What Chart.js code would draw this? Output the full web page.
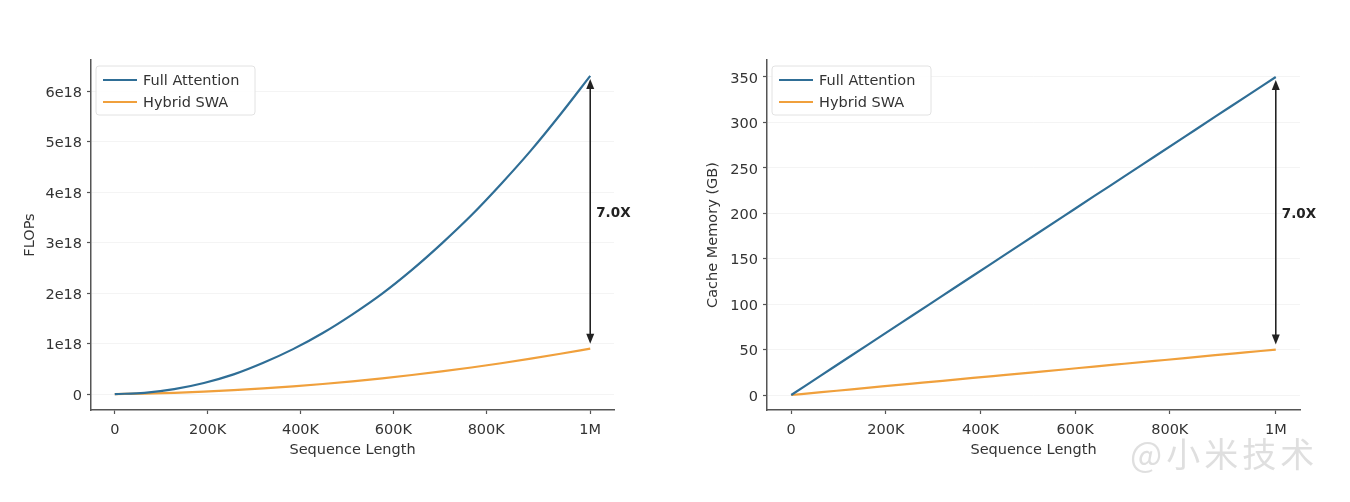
<!DOCTYPE html>
<html>
<head>
<meta charset="utf-8">
<script src="https://cdn.jsdelivr.net/npm/chart.js@4.4.1/dist/chart.umd.min.js"></script>
<style>
    html, body { margin: 0; padding: 0; background: #fff; }
    #wrap { position: relative; width: 1350px; height: 502px; overflow: hidden; }
    .panel { position: absolute; top: 0; }
    #watermark {
        position: absolute; left: 1130px; top: 428px;
        font: 34px "Noto Sans CJK SC", sans-serif;
        letter-spacing: 4px;
        color: rgba(150, 150, 150, 0.3);
        white-space: nowrap;
    }
</style>
</head>
<body>
<div id="wrap">
    <canvas id="flopsChart" class="panel" style="left:0" width="675" height="502"></canvas>
    <canvas id="memoryChart" class="panel" style="left:675px" width="675" height="502"></canvas>
    <div id="watermark">@小米技术</div>
</div>
<script>
// Sequence lengths (tokens); "1M" means 1024K here
const seqLen = [0, 64000, 128000, 192000, 256000, 320000, 384000, 448000, 512000,
    576000, 640000, 704000, 768000, 832000, 896000, 960000, 1024000];

// FLOPs, in units of 1e18
const flopsFull = [0, 0.025, 0.098, 0.22, 0.39, 0.62, 0.89, 1.21, 1.58,
    1.99, 2.46, 2.98, 3.54, 4.16, 4.82, 5.54, 6.30];
const flopsHybrid = [0, 0.010, 0.026, 0.049, 0.077, 0.112, 0.153, 0.200, 0.253,
    0.312, 0.378, 0.450, 0.527, 0.611, 0.701, 0.798, 0.90];

// KV cache memory, GB
const memFull = [0, 21.9, 43.8, 65.6, 87.5, 109.4, 131.3, 153.1, 175.0,
    196.9, 218.8, 240.6, 262.5, 284.4, 306.3, 328.1, 350.0];
const memHybrid = [0, 3.1, 6.3, 9.4, 12.5, 15.6, 18.8, 21.9, 25.0,
    28.1, 31.3, 34.4, 37.5, 40.6, 43.8, 46.9, 50.0];

const xTickValues = [0, 200000, 400000, 600000, 800000, 1024000];
const xTickLabels = ['0', '200K', '400K', '600K', '800K', '1M'];
const flopsTickValues = [0, 1, 2, 3, 4, 5, 6];
const flopsTickLabels = ['0', '1e18', '2e18', '3e18', '4e18', '5e18', '6e18'];
const memTickValues = [0, 50, 100, 150, 200, 250, 300, 350];
const memTickLabels = ['0', '50', '100', '150', '200', '250', '300', '350'];

const seriesNames = ['Full Attention', 'Hybrid SWA'];
const seriesColors = ['#2f6e96', '#f0a03c'];

const FONT = '"DejaVu Sans", sans-serif';
const TEXT = '#333';
const AXIS = '#555';

function toPoints(values) {
    return values.map((v, i) => ({ x: seqLen[i], y: v }));
}

// arrow between the two series at the last point, legend box in the top-left corner
const overlayPlugin = {
    id: 'overlay',
    afterDatasetsDraw(chart) {
        const { ctx, chartArea, scales } = chart;
        const ds = chart.data.datasets;
        const hi = ds[0].data[ds[0].data.length - 1];
        const lo = ds[1].data[ds[1].data.length - 1];
        const px = scales.x.getPixelForValue(hi.x);
        const yTop = scales.y.getPixelForValue(hi.y) + 3;
        const yBot = scales.y.getPixelForValue(lo.y) - 5;

        ctx.save();
        ctx.strokeStyle = '#222';
        ctx.fillStyle = '#222';
        ctx.lineWidth = 1.6;
        ctx.beginPath();
        ctx.moveTo(px, yTop + 6);
        ctx.lineTo(px, yBot - 6);
        ctx.stroke();
        ctx.beginPath();
        ctx.moveTo(px, yTop);
        ctx.lineTo(px - 4, yTop + 10);
        ctx.lineTo(px + 4, yTop + 10);
        ctx.closePath();
        ctx.fill();
        ctx.beginPath();
        ctx.moveTo(px, yBot);
        ctx.lineTo(px - 4, yBot - 10);
        ctx.lineTo(px + 4, yBot - 10);
        ctx.closePath();
        ctx.fill();

        ctx.font = 'bold 13.5px ' + FONT;
        ctx.textAlign = 'left';
        ctx.textBaseline = 'middle';
        ctx.fillText((hi.y / lo.y).toFixed(1) + 'X', px + 6, (yTop + yBot) / 2 + 2);

        // legend
        const bx = chartArea.left + 5, by = chartArea.top + 6;
        ctx.beginPath();
        ctx.roundRect(bx, by, 159, 49, 3);
        ctx.fillStyle = 'rgba(255,255,255,0.85)';
        ctx.fill();
        ctx.strokeStyle = '#e2e2e2';
        ctx.lineWidth = 1;
        ctx.stroke();
        ctx.font = '14.5px ' + FONT;
        ds.forEach((d, i) => {
            const ly = by + 14 + i * 22;
            ctx.strokeStyle = d.borderColor;
            ctx.lineWidth = 2.2;
            ctx.beginPath();
            ctx.moveTo(bx + 7, ly);
            ctx.lineTo(bx + 41, ly);
            ctx.stroke();
            ctx.fillStyle = TEXT;
            ctx.fillText(d.label, bx + 47, ly + 1);
        });
        ctx.restore();
    }
};

function makeChart(canvasId, full, hybrid, yMin, yMax, yTicks, yLabels, yTitle, yTitlePad, yWidth, padRight) {
    const ctx = document.getElementById(canvasId).getContext('2d');
    return new Chart(ctx, {
        type: 'line',
        data: {
            datasets: [full, hybrid].map((vals, i) => ({
                label: seriesNames[i],
                data: toPoints(vals),
                borderColor: seriesColors[i],
                borderWidth: 2.2,
                pointRadius: 0,
                cubicInterpolationMode: 'monotone',
                fill: false
            }))
        },
        options: {
            responsive: false,
            animation: false,
            events: [],
            layout: { padding: { top: 60, right: padRight, bottom: 0, left: 0 } },
            plugins: { legend: { display: false }, tooltip: { enabled: false } },
            scales: {
                x: {
                    type: 'linear',
                    min: -51200,
                    max: 1075200,
                    afterFit(scale) { scale.height = 92; },
                    afterBuildTicks(scale) { scale.ticks = xTickValues.map(v => ({ value: v })); },
                    ticks: {
                        autoSkip: false,
                        maxRotation: 0,
                        padding: 8,
                        color: TEXT,
                        font: { family: FONT, size: 14.5 },
                        callback: (v) => xTickLabels[xTickValues.indexOf(v)]
                    },
                    grid: { drawOnChartArea: false, tickLength: 4, tickColor: AXIS, tickWidth: 1.2 },
                    border: { color: AXIS, width: 1.5 },
                    title: {
                        display: true,
                        text: 'Sequence Length',
                        color: TEXT,
                        font: { family: FONT, size: 14.5 },
                        padding: { top: 0, bottom: 43 }
                    }
                },
                y: {
                    type: 'linear',
                    min: yMin,
                    max: yMax,
                    afterFit(scale) { scale.width = yWidth; },
                    afterBuildTicks(scale) { scale.ticks = yTicks.map(v => ({ value: v })); },
                    ticks: {
                        autoSkip: false,
                        padding: 5,
                        labelOffset: 2,
                        color: TEXT,
                        font: { family: FONT, size: 14.5 },
                        callback: (v) => yLabels[yTicks.indexOf(v)]
                    },
                    grid: { color: 'rgba(0,0,0,0.045)', lineWidth: 1, tickLength: 4, tickColor: AXIS, tickWidth: 1.2 },
                    border: { color: AXIS, width: 1.5 },
                    title: {
                        display: true,
                        text: yTitle,
                        color: TEXT,
                        font: { family: FONT, size: 14.5 },
                        padding: { top: yTitlePad, bottom: 0 }
                    }
                }
            }
        },
        plugins: [overlayPlugin]
    });
}

makeChart('flopsChart', flopsFull, flopsHybrid, -0.315, 6.615,
    flopsTickValues, flopsTickLabels, 'FLOPs', 22, 91, 61);
makeChart('memoryChart', memFull, memHybrid, -16.5, 368.7,
    memTickValues, memTickLabels, 'Cache Memory (GB)', 30, 92, 50);
</script>
</body>
</html>
